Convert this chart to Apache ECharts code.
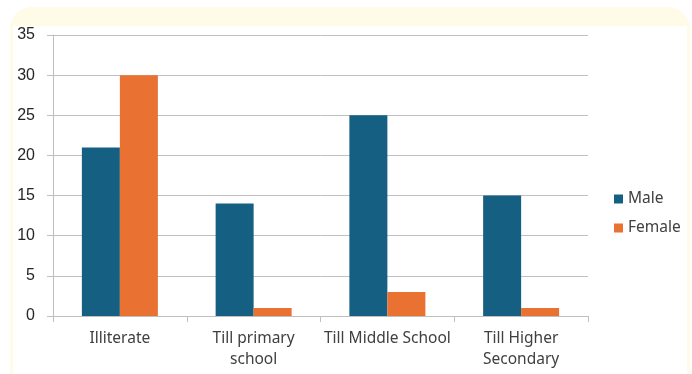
<!DOCTYPE html>
<html>
<head>
<meta charset="utf-8">
<script src="https://cdn.jsdelivr.net/npm/echarts@6/dist/echarts.min.js"></script>
<style>
    html, body { margin: 0; padding: 0; background: #ffffff; }
    #chart { width: 692px; height: 374px; }
</style>
</head>
<body>
<div id="chart"></div>
<script>
// data
const categories = ['Illiterate', 'Till primary\nschool', 'Till Middle School', 'Till Higher\nSecondary'];
const maleValues = [21, 14, 25, 15];
const femaleValues = [30, 1, 3, 1];
const yTicks = { min: 0, max: 35, interval: 5 };

const textColor = '#404040';
const lineColor = '#bfbfbf';
const fontFamily = '"Noto Sans", Lato, sans-serif';

const chartInstance = echarts.init(document.getElementById('chart'));

const option = {
    backgroundColor: '#ffffff',
    animation: false,
    color: ['#156082', '#E97132'],
    textStyle: { fontFamily: fontFamily },
    // yellow rounded frame behind the white panel
    graphic: [
        {
            type: 'rect', z: -10, silent: true,
            shape: { x: 10, y: 7, width: 680, height: 400, r: 22 },
            style: { fill: '#FFFBE6' },
        },
        {
            type: 'rect', z: -9, silent: true,
            shape: { x: 13, y: 26, width: 674, height: 360 },
            style: { fill: '#ffffff' },
        },
    ],
    legend: {
        orient: 'vertical',
        left: 609,
        top: 186,
        itemWidth: 9,
        itemHeight: 9,
        itemGap: 13,
        icon: 'rect',
        textStyle: { color: textColor, fontSize: 15.5, fontFamily: fontFamily },
    },
    grid: {
        left: 53,
        right: 104,
        top: 35,
        bottom: 58,
    },
    xAxis: {
        type: 'category',
        data: categories,
        axisLine: { lineStyle: { color: lineColor } },
        axisTick: { show: true, length: 6, lineStyle: { color: lineColor } },
        axisLabel: {
            color: textColor,
            fontSize: 15.5,
            lineHeight: 21,
            margin: 12,
            interval: 0,
        },
    },
    yAxis: {
        type: 'value',
        min: yTicks.min,
        max: yTicks.max,
        interval: yTicks.interval,
        axisLine: { show: true, lineStyle: { color: lineColor } },
        axisTick: { show: true, length: 6, lineStyle: { color: lineColor } },
        axisLabel: {
            color: '#262626',
            fontSize: 16,
            fontFamily: '"Liberation Sans", Arial, sans-serif',
            margin: 18,
        },
        splitLine: { lineStyle: { color: lineColor } },
    },
    series: [
        {
            name: 'Male',
            type: 'bar',
            data: maleValues,
            barWidth: 38,
            barGap: '0%',
        },
        {
            name: 'Female',
            type: 'bar',
            data: femaleValues,
            barWidth: 38,
            barGap: '0%',
        },
    ],
};

chartInstance.setOption(option);
</script>
</body>
</html>
